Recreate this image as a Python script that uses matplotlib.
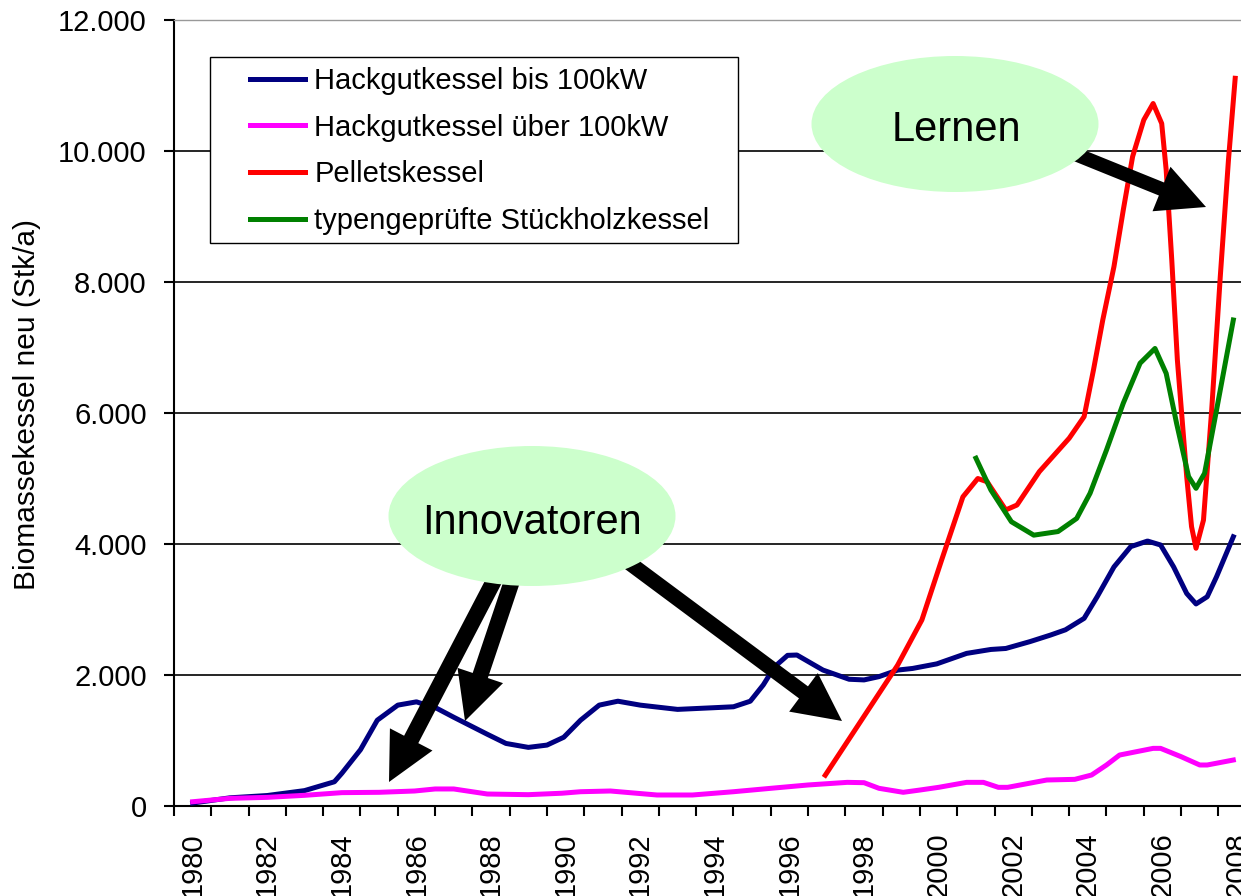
import matplotlib
matplotlib.use("Agg")
import matplotlib.pyplot as plt
from matplotlib.patches import Ellipse, FancyArrow, Rectangle
from matplotlib.transforms import Affine2D
from matplotlib.ticker import FixedLocator, FuncFormatter

# --- data (year, units per year) ---
hack_small_x = [1980.0, 1981.0, 1982.0, 1983.0, 1983.8, 1984.0, 1984.5, 1984.95, 1985.5, 1986.0,
                1986.55, 1987.0, 1987.9, 1988.4, 1989.0, 1989.5, 1989.95, 1990.4, 1990.9, 1991.4,
                1992.0, 1993.0, 1993.95, 1994.5, 1994.95, 1995.3, 1995.6, 1995.95, 1996.2, 1996.9,
                1997.6, 1998.0, 1998.4, 1998.9, 1999.3, 1999.95, 2000.75, 2001.4, 2001.8, 2002.45,
                2003.0, 2003.4, 2003.9, 2004.25, 2004.7, 2005.15, 2005.6, 2005.95, 2006.3, 2006.65,
                2006.9, 2007.2, 2007.45, 2007.9]
hack_small_y = [45, 125, 160, 235, 370, 500, 860, 1310, 1540, 1590,
                1490, 1355, 1095, 955, 895, 930, 1050, 1310, 1540, 1600,
                1540, 1475, 1500, 1515, 1600, 1850, 2125, 2300, 2305, 2075,
                1935, 1925, 1975, 2075, 2100, 2170, 2330, 2390, 2405, 2510,
                2610, 2690, 2865, 3195, 3650, 3960, 4045, 3985, 3650, 3245,
                3085, 3195, 3500, 4110]

hack_big_x = [1980.0, 1981.0, 1982.0, 1983.0, 1984.0, 1985.0, 1985.95, 1986.5, 1987.0, 1987.9,
              1989.0, 1989.9, 1990.4, 1991.2, 1992.45, 1993.4, 1994.5, 1995.5, 1996.5, 1997.55,
              1998.0, 1998.4, 1999.05, 1999.5, 2000.0, 2000.75, 2001.2, 2001.6, 2001.85, 2002.9,
              2003.65, 2004.1, 2004.5, 2004.85, 2005.75, 2005.95, 2006.5, 2007.0, 2007.2, 2007.9]
hack_big_y = [65, 117, 132, 163, 204, 209, 229, 260, 260, 183,
              173, 195, 218, 229, 168, 168, 218, 270, 321, 361,
              356, 270, 209, 244, 285, 361, 361, 285, 285, 397,
              407, 473, 626, 778, 880, 880, 753, 626, 626, 702]

pellet_x = [1996.96, 1998.9, 1999.55, 2000.08, 2000.65, 2001.05, 2001.3, 2001.8, 2002.1, 2002.7,
            2003.5, 2003.9, 2004.15, 2004.4, 2004.7, 2004.95, 2005.2, 2005.5, 2005.75, 2005.98,
            2006.1, 2006.25, 2006.4, 2006.65, 2006.78, 2006.9, 2007.1, 2007.32, 2007.55, 2007.77,
            2007.95]
pellet_y = [470, 2150, 2840, 3756, 4720, 5000, 4950, 4520, 4595, 5105,
            5615, 5945, 6655, 7420, 8235, 9100, 9915, 10475, 10725, 10420,
            9710, 8335, 6810, 5030, 4265, 3935, 4365, 6045, 8080, 9865,
            11110]

stueck_x = [2001.0, 2001.4, 2001.95, 2002.55, 2003.2, 2003.7, 2004.06, 2004.5, 2004.95, 2005.4,
            2005.8, 2006.1, 2006.38, 2006.7, 2006.9, 2007.13, 2007.45, 2007.9]
stueck_y = [5310, 4825, 4340, 4135, 4190, 4390, 4775, 5435, 6150, 6760,
            6985, 6605, 5840, 5030, 4850, 5080, 6045, 7420]

year_labels = list(range(1980, 2009, 2))
y_ticks = [0, 2000, 4000, 6000, 8000, 10000, 12000]

W, H = 1241, 896
plt.rcParams["font.family"] = ["Liberation Sans", "DejaVu Sans"]
FS = 21

fig = plt.figure(figsize=(W / 100, H / 100), dpi=100)
ax = fig.add_axes([174 / W, 90 / H, 1119 / W, 786 / H])
px = Affine2D().scale(1, -1).translate(0, H)  # pixel coords, y from top

lw = 3.6
style = dict(lw=lw, solid_joinstyle="round")
ax.plot(hack_small_x, hack_small_y, color="#000080", label="Hackgutkessel bis 100kW", zorder=3, **style)
ax.plot(hack_big_x, hack_big_y, color="#FF00FF", label="Hackgutkessel über 100kW", zorder=3.1, **style)
ax.plot(pellet_x, pellet_y, color="#FF0000", label="Pelletskessel", zorder=3.2, **style)
ax.plot(stueck_x, stueck_y, color="#008000", label="typengeprüfte Stückholzkessel", zorder=3.3, **style)

ax.set_xlim(1979.5, 2009.5)
ax.set_ylim(0, 12000)
ax.set_yticks(y_ticks)
ax.yaxis.set_major_formatter(FuncFormatter(lambda v, _: f"{int(v):,}".replace(",", ".")))
ax.set_xticks(year_labels)
ax.set_xticklabels([str(y) for y in year_labels], rotation=90)
ax.xaxis.set_minor_locator(FixedLocator([1979.5 + i for i in range(31)]))

ax.tick_params(axis="y", length=7.2, width=1.5, pad=12.5, labelsize=FS)
ax.tick_params(axis="x", which="major", length=0, pad=19, labelsize=FS)
ax.tick_params(axis="x", which="minor", length=7.2, width=1.5)

ax.grid(axis="y", color="black", lw=1.2, zorder=1)
ax.set_axisbelow(True)
ax.yaxis.get_gridlines()[-1].set_color("#999999")
ax.spines["right"].set_visible(False)
ax.spines["top"].set_color("#999999")
ax.spines["top"].set_linewidth(1.0)
ax.spines["left"].set_linewidth(1.5)
ax.spines["bottom"].set_linewidth(1.5)

fig.text(27 / W, 1 - 404 / H, "Biomassekessel neu (Stk/a)", rotation=90,
         ha="center", va="center", fontsize=FS + 0.5)

# legend with an Excel-like inset frame
ax.add_patch(Rectangle((210, 57), 528, 186, transform=px, facecolor="white",
                       edgecolor="black", lw=1.0, zorder=4.5, clip_on=False))
leg = ax.legend(loc="upper left", bbox_to_anchor=(250 / W, 1 - 67 / H),
                bbox_transform=fig.transFigure, frameon=False, fontsize=FS,
                borderpad=0, borderaxespad=0, handlelength=1.88, handletextpad=0.33,
                labelspacing=0.64)
leg.set_zorder(5)

# callouts
green = "#CCFFCC"
for cx, cy, w, h in [(955, 124, 287, 136), (532, 516, 287, 140)]:
    ax.add_patch(Ellipse((cx, cy), w, h, transform=px, facecolor=green,
                         edgecolor="none", zorder=6, clip_on=False))
ax.text(956, 140.7, "Lernen", transform=px, ha="center", va="baseline", fontsize=30, zorder=7)
ax.text(532, 534, "Innovatoren", transform=px, ha="center", va="baseline", fontsize=30, zorder=7)

arrows = [
    (1070, 152, 1206, 207, 14),
    (497, 575, 389, 782, 16),
    (514, 575, 465, 721, 16),
    (620, 556, 842, 721, 15),
]
for x0, y0, x1, y1, shaft in arrows:
    ax.add_patch(FancyArrow(x0, y0, x1 - x0, y1 - y0, width=shaft, head_width=48,
                            head_length=48, length_includes_head=True, transform=px,
                            facecolor="black", edgecolor="none", zorder=5.5, clip_on=False))

fig.savefig("out.png", dpi=100)
